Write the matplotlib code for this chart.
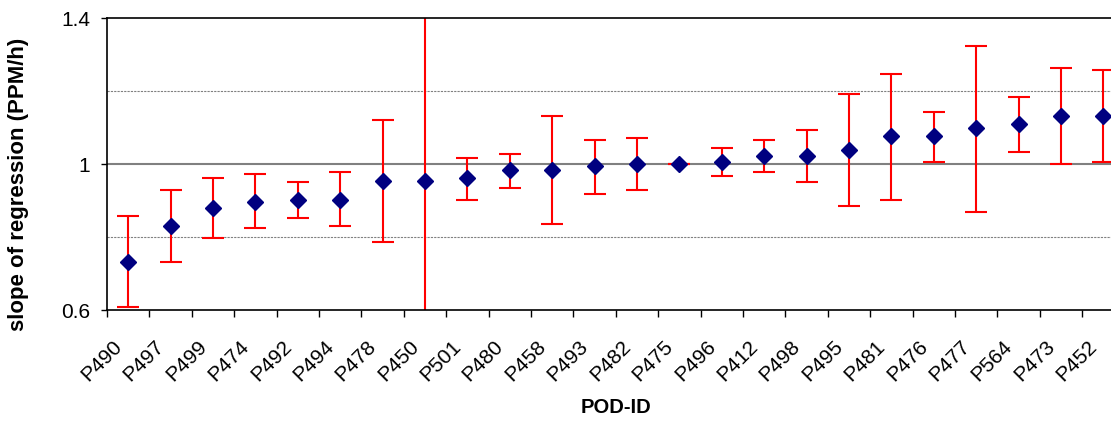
import numpy as np
import matplotlib
matplotlib.use("Agg")
import matplotlib.pyplot as plt

matplotlib.rcParams['font.family'] = ['Liberation Sans', 'DejaVu Sans']

pods = ["P490", "P497", "P499", "P474", "P492", "P494", "P478", "P450",
        "P501", "P480", "P458", "P493", "P482", "P475", "P496", "P412",
        "P498", "P495", "P481", "P476", "P477", "P564", "P473", "P452"]
slope = [0.732, 0.830, 0.879, 0.896, 0.901, 0.901, 0.955, 0.955,
         0.961, 0.984, 0.984, 0.995, 1.000, 1.000, 1.005, 1.022,
         1.022, 1.038, 1.077, 1.077, 1.099, 1.110, 1.132, 1.132]
upper = [0.858, 0.930, 0.962, 0.973, 0.951, 0.978, 1.121, 2.000,
         1.016, 1.027, 1.132, 1.065, 1.072, 1.000, 1.045, 1.065,
         1.093, 1.191, 1.246, 1.142, 1.323, 1.185, 1.263, 1.258]
lower = [0.608, 0.732, 0.798, 0.825, 0.853, 0.830, 0.786, 0.000,
         0.901, 0.935, 0.837, 0.918, 0.930, 1.000, 0.967, 0.979,
         0.951, 0.886, 0.901, 1.005, 0.868, 1.033, 1.000, 1.005]

x = np.arange(len(pods))
slope = np.array(slope)
err = [slope - np.array(lower), np.array(upper) - slope]

fig = plt.figure(figsize=(11.11, 4.23), dpi=100)
ax = fig.add_axes([0.0963, 0.267, 0.916, 0.690])

# Gitterlinien
ax.axhline(1.2, color='#808080', lw=0.8, ls=(0, (2, 1)), zorder=1)
ax.axhline(0.8, color='#808080', lw=0.8, ls=(0, (2, 1)), zorder=1)
ax.axhline(1.0, color='#808080', lw=1.5, zorder=1)

ax.errorbar(x, slope, yerr=err, fmt='none', ecolor='red', elinewidth=1.5,
            capsize=8, capthick=1.5, zorder=2)
ax.plot(x, slope, ls='none', marker='D', ms=8, color='#000080', zorder=3)

ax.set_xlim(-0.5, len(pods) - 0.5)
ax.set_ylim(0.6, 1.4)
ax.set_yticks([0.6, 1.0, 1.4])
ax.set_yticklabels(["0.6", "1", "1.4"], fontsize=15)
ax.tick_params(axis='y', direction='out', length=4, width=1, pad=8)

# Beschriftung etwas links von der Kategoriemitte (wie im Original)
ax.set_xticks(x - 0.38)
ax.set_xticklabels(pods, rotation=45, ha='right', va='top',
                   rotation_mode='anchor', fontsize=15)
ax.set_xticks(np.arange(len(pods) + 1) - 0.5, minor=True)
ax.tick_params(axis='x', which='major', length=0, pad=19)
ax.tick_params(axis='x', which='minor', direction='out', length=5, width=1)

for s in ['top', 'left', 'bottom']:
    ax.spines[s].set_linewidth(1.2)
ax.spines['right'].set_visible(False)

ax.set_xlabel("POD-ID", fontsize=14.5, fontweight='bold', labelpad=10)
ax.set_ylabel("slope of regression (PPM/h)", fontsize=16, fontweight='bold',
              labelpad=20)
ax.yaxis.set_label_coords(-0.077, 0.43)

plt.savefig("out.png", dpi=100)
